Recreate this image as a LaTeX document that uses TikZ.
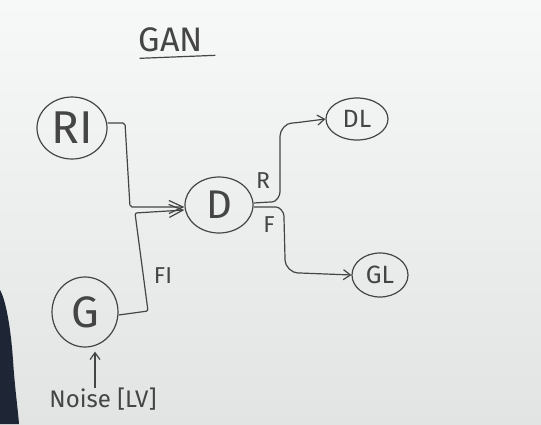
\documentclass[tikz,border=0pt]{standalone}
\usepackage{fontspec}
\newfontfamily\hand{Fira Sans}
\usetikzlibrary{shapes.geometric,arrows.meta}
\definecolor{ink}{HTML}{454545}
\definecolor{bgtop}{HTML}{F7F8F8}
\definecolor{bgmid}{HTML}{F1F2F2}
\definecolor{bgbot}{HTML}{E2E3E3}
\definecolor{blobc}{HTML}{1E2636}
\tikzset{
  bub/.style={ellipse, draw=ink, line width=1.2pt, inner sep=0pt, text=ink, font=\hand},
  lbl/.style={inner sep=0pt, text=ink, font=\hand},
  conn/.style={draw=ink, line width=1.2pt, rounded corners=2pt, -{Straight Barb[length=7pt,width=10pt]}},
  bigtip/.style={-{Straight Barb[length=14pt,width=13pt]}}
}
\begin{document}
\begin{tikzpicture}[x=1pt,y=-1pt]
\shade[top color=bgtop, middle color=bgmid, bottom color=bgbot] (0,0) rectangle (541,424);
\useasboundingbox (0,0) rectangle (541,424);
\fill[blobc] (0,290) .. controls (6,300) and (11,330) .. (13,360) .. controls (15,390) and (18,410) .. (19,424) -- (0,424) -- cycle;

% title
\node[lbl, font=\hand\fontsize{34}{36}\selectfont] (GAN) at (171,40) {GAN};
\draw[ink, line width=1.2pt] ([xshift=1pt,yshift=-6pt]GAN.south west) -- ([xshift=12pt,yshift=-3pt]GAN.south east);

% nodes
\node[bub, minimum width=70pt, minimum height=62pt, font=\hand\fontsize{46}{48}\selectfont] (RI) at (72,128) {RI};
\node[bub, minimum width=68pt, minimum height=56pt, font=\hand\fontsize{40}{42}\selectfont] (D) at (219,205) {D};
\node[bub, minimum width=62pt, minimum height=42pt, font=\hand\fontsize{25}{27}\selectfont] (DL) at (357,119) {DL};
\node[bub, minimum width=56pt, minimum height=44pt, font=\hand\fontsize{25}{27}\selectfont] (GL) at (380,275) {GL};
\node[bub, minimum width=66pt, minimum height=70pt, font=\hand\fontsize{44}{46}\selectfont] (G) at (85,312) {G};
\node[lbl, font=\hand\fontsize{24}{26}\selectfont] (noise) at (103,399) {Noise [LV]};

% edge labels
\node[lbl, font=\hand\fontsize{23}{25}\selectfont] (R) at (263,181) {R};
\node[lbl, font=\hand\fontsize{23}{25}\selectfont] (F) at (269,225) {F};
\node[lbl, font=\hand\fontsize{23}{25}\selectfont] (FI) at (163,276) {FI};

% connectors
\draw[conn, bigtip] ([yshift=5pt]RI.east) -- (125,123) -- (130,207) -- ([yshift=-2pt]D.west);
\draw[conn, bigtip] ([yshift=-3pt]G.east) -- (148,311) -- (135,213) -- ([yshift=-5pt]D.west);
\draw[conn] ([yshift=2pt]D.east) -- (270,202) to[out=0,in=-90] (280,190) -- (280,138) to[out=90,in=180] (294,123) -- (DL.west);
\draw[conn] ([yshift=-2pt]D.east) -- (274,207) to[out=0,in=90] (284,218) -- (285,258) to[out=-90,in=180] (300,273) -- (GL.west);
\draw[conn] ([xshift=-8pt]noise.north) -- ([xshift=10pt,yshift=-4pt]G.south);
\end{tikzpicture}
\end{document}
